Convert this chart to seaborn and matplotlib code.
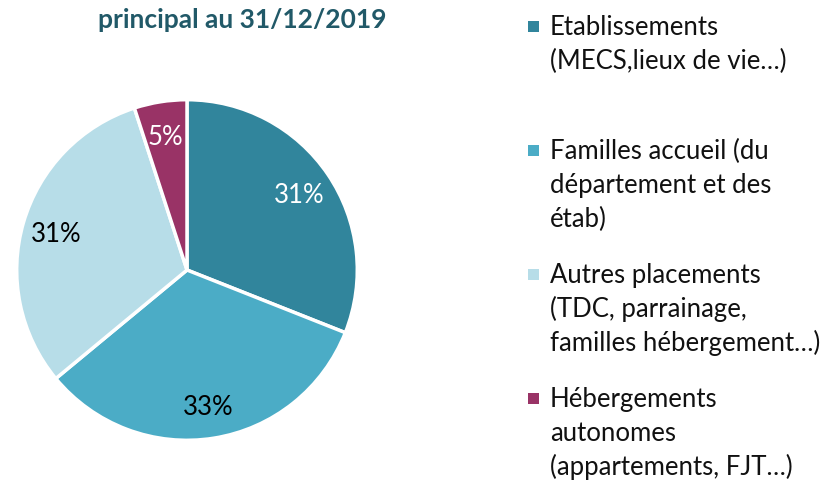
import matplotlib
matplotlib.use("Agg")
import matplotlib.pyplot as plt
import seaborn as sns
from matplotlib.patches import Rectangle

# data
categories = [
    "Etablissements\n(MECS,lieux de vie…)",
    "Familles accueil (du\ndépartement et des\nétab)",
    "Autres placements\n(TDC, parrainage,\nfamilles hébergement…)",
    "Hébergements\nautonomes\n(appartements, FJT…)",
]
shares = [31, 33, 31, 5]
colors = ["#31859c", "#4bacc6", "#b7dde8", "#993366"]
pct_colors = ["white", "black", "black", "white"]
title = "principal au 31/12/2019"

sns.set_style("white")
plt.rcParams["font.family"] = ["Lato", "DejaVu Sans"]

W, H = 828, 480
fig = plt.figure(figsize=(W / 100, H / 100), dpi=100)

# pie axes: centre ~ (187, 270), radius ~ 172 px
ax = fig.add_axes([15 / W, (H - 442) / H, 344 / W, 344 / H])
wedges, texts, autotexts = ax.pie(
    shares, colors=colors, startangle=90, counterclock=False,
    autopct="%d%%", pctdistance=0.8,
    wedgeprops=dict(edgecolor="white", linewidth=2.5),
    textprops=dict(fontsize=18.5),
)
for t, c in zip(autotexts, pct_colors):
    t.set_color(c)
    t.set_va("center_baseline")
ax.set_xlim(-1.01, 1.01)
ax.set_ylim(-1.01, 1.01)
ax.set_aspect("equal")
ax.axis("off")

fig.text(242 / W, 1 - 28 / H, title, ha="center", va="baseline",
         fontsize=19, fontweight="bold", color="#215968")

# legend drawn by hand so entries sit at equal steps like in the original
first_baselines = [35, 159, 283, 407]
line_step = 34
for lab, col, y0 in zip(categories, colors, first_baselines):
    fig.patches.append(Rectangle((528 / W, 1 - (y0 - 3) / H), 11 / W, 11 / H,
                                 transform=fig.transFigure, facecolor=col,
                                 edgecolor="none"))
    for i, line in enumerate(lab.split("\n")):
        fig.text(550 / W, 1 - (y0 + i * line_step) / H, line,
                 ha="left", va="baseline", fontsize=18.5, color="#111111")

fig.savefig("out.png", dpi=100)
